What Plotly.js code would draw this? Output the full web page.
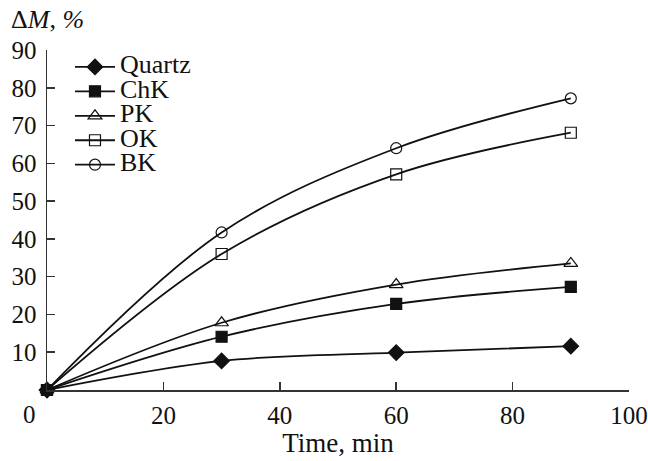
<!DOCTYPE html>
<html>
<head>
<meta charset="utf-8">
<script src="https://cdn.plot.ly/plotly-3.0.1.min.js"></script>
<style>
html,body{margin:0;padding:0;background:#fff;}
#chart{width:648px;height:461px;}
</style>
</head>
<body>
<div id="chart"></div>
<script>
// Data
const time = [0, 30, 60, 90];
const quartz = [0, 7.7, 9.9, 11.6];
const chk = [0, 14.1, 22.8, 27.3];
const pk = [0, 17.8, 27.9, 33.5];
const ok = [0, 36.0, 57.1, 68.1];
const bk = [0, 41.7, 64.0, 77.2];
const seriesNames = ['Quartz', 'ChK', 'PK', 'OK', 'BK'];
const xTicks = [20, 40, 60, 80, 100];
const yTicks = [10, 20, 30, 40, 50, 60, 70, 80, 90];

const FONT = 'Liberation Serif, Times New Roman, serif';
const LEG_FS = 26;

const seriesData = [quartz, chk, pk, ok, bk];
const symbols = ['diamond', 'square', 'triangle-up-open', 'square-open', 'circle-open'];
const sizes = [12, 11, 12, 11, 11];

const traces = seriesData.map((ys, i) => ({
  x: time,
  y: ys,
  type: 'scatter',
  mode: 'lines+markers',
  name: '<span style="font-size:' + LEG_FS + 'px">' + seriesNames[i] + '</span>',
  cliponaxis: false,
  line: {color: '#111', width: 1.8, shape: 'spline', smoothing: 1},
  marker: {symbol: symbols[i], size: sizes[i], color: '#111', line: {color: '#111', width: 1.2}}
}));

const layout = {
  width: 648,
  height: 461,
  margin: {l: 47, r: 19, t: 50, b: 71},
  paper_bgcolor: '#fff',
  plot_bgcolor: '#fff',
  font: {family: FONT, size: 25, color: '#111'},
  showlegend: true,
  legend: {
    x: 0.0395, y: 1.001, xanchor: 'left', yanchor: 'top',
    font: {family: FONT, size: 16.5, color: '#111'},
    bgcolor: 'rgba(0,0,0,0)', borderwidth: 0, itemwidth: 40, tracegroupgap: 0
  },
  xaxis: {
    range: [0, 100], tickvals: xTicks, ticktext: xTicks.map(String),
    ticks: 'inside', ticklen: 8, tickwidth: 1.5, tickcolor: '#333',
    showline: true, linecolor: '#333', linewidth: 1.5,
    showgrid: false, zeroline: false, ticklabelstandoff: 2,
    title: {text: 'Time, min', font: {family: FONT, size: 27, color: '#111'}, standoff: 4}
  },
  yaxis: {
    range: [0, 90], tickvals: yTicks, ticktext: yTicks.map(String),
    ticks: 'inside', ticklen: 8, tickwidth: 1.5, tickcolor: '#333',
    showline: true, linecolor: '#333', linewidth: 1.5,
    showgrid: false, zeroline: false, ticklabelstandoff: 4
  },
  annotations: [
    {text: 'Δ<i>M</i>, <i>%</i>', xref: 'paper', yref: 'paper', x: -0.065, y: 1.09,
     xanchor: 'left', yanchor: 'middle', showarrow: false, font: {family: FONT, size: 26, color: '#111'}},
    {text: '0', xref: 'x', yref: 'paper', x: 0, y: 0, xshift: -18, yshift: -24,
     xanchor: 'center', yanchor: 'middle', showarrow: false, font: {family: FONT, size: 25, color: '#111'}}
  ]
};

Plotly.newPlot('chart', traces, layout, {displayModeBar: false, staticPlot: true});
</script>
</body>
</html>
